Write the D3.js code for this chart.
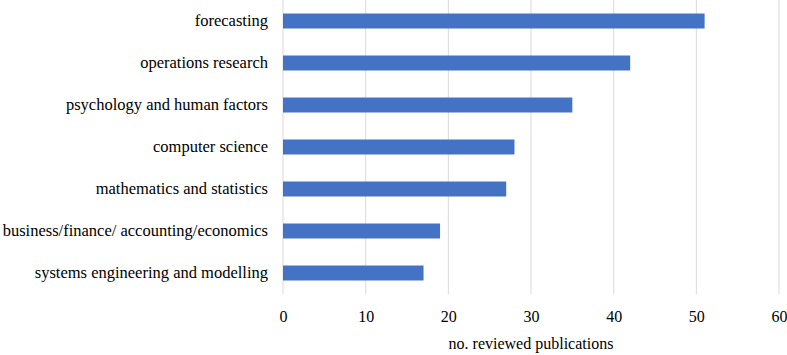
<!DOCTYPE html>
<html>
<head>
<meta charset="utf-8">
<script src="https://cdn.jsdelivr.net/npm/d3@7"></script>
<style>
  body { margin: 0; background: #fff; }
</style>
</head>
<body>
<div id="chart-area"></div>
<script>
var categories = ["forecasting", "operations research", "psychology and human factors",
    "computer science", "mathematics and statistics",
    "business/finance/ accounting/economics", "systems engineering and modelling"];
var publications = [51, 42, 35, 28, 27, 19, 17];
var x_ticks = [0, 10, 20, 30, 40, 50, 60];

var serif = "'Times New Roman', Times, 'Liberation Serif', 'DejaVu Serif', serif";

var margin = {top: 0, right: 8, bottom: 61, left: 283},
    width = 787 - margin.left - margin.right,
    height = 355 - margin.top - margin.bottom;

var svg = d3.select("#chart-area").append("svg")
    .attr("width", 787)
    .attr("height", 355)
    .attr("font-family", serif)
    .append("g")
    .attr("transform", "translate(" + margin.left + "," + margin.top + ")");

var xScale = d3.scaleLinear()
    .domain([0, 60])
    .range([0, width]);
var yScale = d3.scaleBand()
    .domain(categories)
    .range([0, height])
    .paddingInner(0.643)
    .paddingOuter(0.3215);

// gridlines
svg.append("g")
    .selectAll("line")
    .data(x_ticks)
    .enter()
    .append("line")
    .attr("x1", function (d) { return xScale(d); })
    .attr("x2", function (d) { return xScale(d); })
    .attr("y1", 0)
    .attr("y2", height)
    .attr("stroke", "#d9d9d9")
    .attr("stroke-width", 1);

svg.selectAll(".bar")
    .data(publications)
    .enter()
    .append("rect")
    .attr("class", "bar")
    .attr("x", xScale(0))
    .attr("y", function (d, i) { return yScale(categories[i]); })
    .attr("width", function (d) { return xScale(d) - xScale(0); })
    .attr("height", yScale.bandwidth())
    .attr("fill", "#4472c4");

var xAxis = svg.append("g")
    .attr("transform", "translate(0," + height + ")")
    .call(d3.axisBottom(xScale).tickValues(x_ticks).tickSize(0).tickPadding(17));
xAxis.attr("font-family", serif).attr("font-size", 16);
xAxis.select(".domain").remove();
xAxis.selectAll("text")
    .attr("fill", "#000");

var yAxis = svg.append("g")
    .call(d3.axisLeft(yScale).tickSize(0).tickPadding(15));
yAxis.attr("font-family", serif).attr("font-size", 16.5);
yAxis.select(".domain").remove();
yAxis.selectAll("text")
    .attr("fill", "#000");

svg.append("text")
    .attr("x", width / 2)
    .attr("y", 349)
    .attr("text-anchor", "middle")
    .attr("font-size", 16)
    .attr("fill", "#000")
    .text("no. reviewed publications");
</script>
</body>
</html>
